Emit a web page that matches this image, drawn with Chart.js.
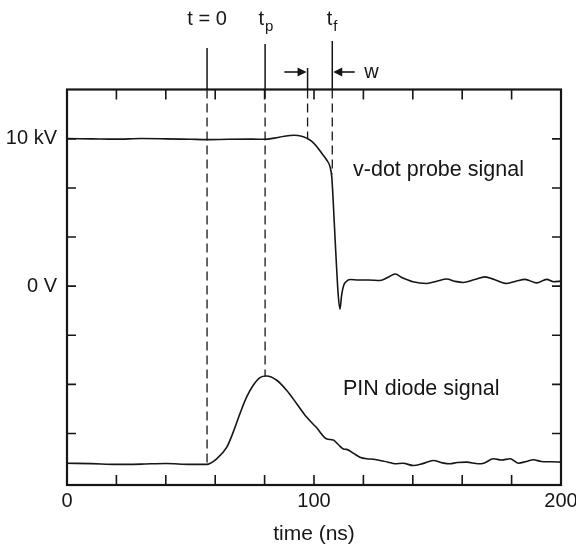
<!DOCTYPE html>
<html>
<head>
<meta charset="utf-8">
<script src="https://cdn.jsdelivr.net/npm/chart.js@4.4.1/dist/chart.umd.min.js"></script>
<style>
  html, body { margin: 0; padding: 0; background: #fff; }
</style>
</head>
<body>
<canvas id="chart" width="576" height="549"></canvas>
<script>
// v-dot probe signal (time in ns, value in kV)
const probeTime = [0, 10, 20, 30, 40, 50, 57, 65, 75, 80, 84, 88, 92, 95, 97, 99, 101, 103, 105, 106.5,
  107.2, 107.8, 108.5, 109.2, 109.8, 110.5, 111.2, 112, 113, 114.6, 118, 122, 126.7, 130, 132.8, 136,
  140, 145.6, 150, 153.7, 157, 160.4, 165, 169.2, 173, 178, 182, 185.4, 190.2, 194.2, 197, 200];
const probeVolts = [10.02, 10.0, 9.98, 10.02, 10.0, 9.97, 9.95, 9.97, 9.98, 9.97, 10.05, 10.18, 10.24, 10.18, 10.05, 9.85,
  9.5, 9.05, 8.6, 8.1, 7.4, 5.7, 3.3, 1.1, -0.6, -1.56, -0.6, 0.05, 0.3, 0.45, 0.42, 0.42, 0.38, 0.6, 0.82, 0.55,
  0.3, 0.18, 0.35, 0.48, 0.33, 0.25, 0.45, 0.63, 0.45, 0.18, 0.35, 0.46, 0.22, 0.46, 0.3, 0.34];

// PIN diode signal (same vertical scale, arbitrary units)
const pinTime = [0, 10, 20, 30, 40, 50, 56.5, 60.6, 64.7, 67.3, 70, 72.7, 75.4, 78.1, 80.8, 84.9, 88.9, 93, 97,
  101, 105, 107.8, 109.8, 111.9, 113.2, 116, 118.6, 121.3, 124, 126.7, 130, 132.8, 136, 140.2, 144, 148.3,
  152, 155, 158, 161.8, 166.5, 169, 172.6, 176, 179.4, 182.7, 186, 188.8, 192, 196, 200];
const pinVolts = [-12.02, -12.05, -12.1, -12.08, -12.04, -12.1, -12.1, -11.72, -10.93, -9.91, -8.66, -7.53, -6.73, -6.21,
  -6.1, -6.39, -7.07, -7.98, -8.89, -9.6, -10.36, -10.45, -10.75, -11.05, -11.08, -11.35, -11.61, -11.72, -11.75,
  -11.84, -11.95, -12.06, -12.02, -12.18, -12.05, -11.84, -12.0, -12.06, -11.97, -11.95, -12.06, -12.0, -11.72,
  -11.8, -11.72, -12.02, -11.9, -11.79, -11.9, -11.92, -11.95];

// dashed marker lines: t = 0, tp, start of w, tf
const markerTime = [56.7, 80.2, 97.4, 107.4];
const markerEnd = [-12.1, -6.1, 10.05, 7.6];

const xTickValues = [0, 20, 40, 60, 80, 100, 120, 140, 160, 180, 200];
const xTickLabels = { 0: '0', 100: '100', 200: '200' };
const yTickValues = [-10, -20 / 3, -10 / 3, 0, 10 / 3, 20 / 3, 10];
const yTickLabels = ['10 kV', '0 V'];

const ink = '#161616';
const font = '"Liberation Sans", Arial, Helvetica, sans-serif';

function toPoints(xs, ys) {
    return xs.map((x, i) => ({ x: x, y: ys[i] }));
}

const guideSets = markerTime.map((t, i) => ({
    data: [{ x: t, y: 13.35 }, { x: t, y: markerEnd[i] }],
    borderColor: ink,
    borderWidth: 1.3,
    borderDash: [9, 5],
    pointRadius: 0,
    tension: 0
}));

// frame, inward ticks and annotations
const framePlugin = {
    id: 'frame',
    afterDraw(chart) {
        const ctx = chart.ctx;
        const a = chart.chartArea;
        const xs = chart.scales.x;
        const ys = chart.scales.y;
        ctx.save();
        ctx.strokeStyle = ink;
        ctx.fillStyle = ink;
        ctx.lineWidth = 2.2;
        ctx.strokeRect(a.left, a.top, a.right - a.left, a.bottom - a.top);

        ctx.lineWidth = 1.6;
        ctx.beginPath();
        xTickValues.forEach(v => {
            const px = xs.getPixelForValue(v);
            ctx.moveTo(px, a.bottom); ctx.lineTo(px, a.bottom - 10);
            ctx.moveTo(px, a.top); ctx.lineTo(px, a.top + 10);
        });
        yTickValues.forEach(v => {
            const py = ys.getPixelForValue(v);
            ctx.moveTo(a.left, py); ctx.lineTo(a.left + 9, py);
            ctx.moveTo(a.right, py); ctx.lineTo(a.right - 9, py);
        });
        ctx.stroke();

        // solid marker lines above the frame
        const tops = [48, 44, 68, 41];
        ctx.lineWidth = 1.5;
        ctx.beginPath();
        markerTime.forEach((t, i) => {
            const px = xs.getPixelForValue(t);
            ctx.moveTo(px, tops[i]); ctx.lineTo(px, a.top);
        });
        ctx.stroke();

        // w arrows
        const arrow = (fromT, toT, y) => {
            const x0 = xs.getPixelForValue(fromT);
            const x1 = xs.getPixelForValue(toT);
            const dir = Math.sign(x1 - x0);
            ctx.beginPath();
            ctx.moveTo(x0, y); ctx.lineTo(x1 - dir * 6, y);
            ctx.lineWidth = 1.6;
            ctx.stroke();
            ctx.beginPath();
            ctx.moveTo(x1, y);
            ctx.lineTo(x1 - dir * 9, y - 4.5);
            ctx.lineTo(x1 - dir * 9, y + 4.5);
            ctx.closePath();
            ctx.fill();
        };
        arrow(88, markerTime[2] - 0.4, 72);
        arrow(116.5, markerTime[3] + 0.4, 72);

        ctx.textBaseline = 'alphabetic';
        ctx.font = '20px ' + font;
        ctx.textAlign = 'center';
        ctx.fillText('t = 0', xs.getPixelForValue(markerTime[0]), 25);
        ctx.textAlign = 'right';
        ctx.fillText('t', xs.getPixelForValue(markerTime[1]) - 1, 25);
        ctx.fillText('t', xs.getPixelForValue(markerTime[3]) - 0, 25);
        ctx.font = '15px ' + font;
        ctx.textAlign = 'left';
        ctx.fillText('p', xs.getPixelForValue(markerTime[1]) - 0, 31);
        ctx.fillText('f', xs.getPixelForValue(markerTime[3]) + 1, 31);
        ctx.font = '20px ' + font;
        ctx.fillText('w', xs.getPixelForValue(120.3), 78);

        // curve labels
        ctx.font = '21.5px ' + font;
        ctx.textBaseline = 'middle';
        ctx.fillText('v-dot probe signal', xs.getPixelForValue(115.8), ys.getPixelForValue(7.9));
        ctx.fillText('PIN diode signal', xs.getPixelForValue(111.7), ys.getPixelForValue(-7.0));
        ctx.restore();
    }
};

new Chart(document.getElementById('chart'), {
    type: 'line',
    data: {
        datasets: [
            {
                label: 'v-dot probe signal',
                data: toPoints(probeTime, probeVolts),
                borderColor: ink,
                borderWidth: 1.6,
                pointRadius: 0,
                cubicInterpolationMode: 'monotone'
            },
            {
                label: 'PIN diode signal',
                data: toPoints(pinTime, pinVolts),
                borderColor: ink,
                borderWidth: 1.6,
                pointRadius: 0,
                cubicInterpolationMode: 'monotone'
            },
            ...guideSets
        ]
    },
    options: {
        responsive: false,
        animation: false,
        devicePixelRatio: 1,
        layout: { padding: { top: 89.5, right: 15, left: 0, bottom: 0 } },
        plugins: {
            legend: { display: false },
            tooltip: { enabled: false }
        },
        scales: {
            x: {
                type: 'linear',
                min: 0,
                max: 200,
                afterFit: s => { s.height = 64; s.paddingLeft = 0; s.paddingRight = 0; },
                afterBuildTicks: s => { s.ticks = xTickValues.map(v => ({ value: v })); },
                grid: { display: false, drawTicks: false },
                border: { display: false },
                ticks: {
                    autoSkip: false,
                    maxRotation: 0,
                    padding: 4,
                    color: ink,
                    font: { family: font, size: 20 },
                    callback: v => xTickLabels[v] || ''
                },
                title: {
                    display: true,
                    text: 'time (ns)',
                    color: ink,
                    font: { family: font, size: 21 },
                    padding: { top: 0, bottom: 2 }
                }
            },
            y: {
                type: 'linear',
                min: -13.5,
                max: 13.35,
                afterFit: s => { s.width = 67; s.paddingTop = 0; s.paddingBottom = 0; },
                afterBuildTicks: s => { s.ticks = yTickValues.map(v => ({ value: v })); },
                grid: { display: false, drawTicks: false },
                border: { display: false },
                ticks: {
                    autoSkip: false,
                    padding: 10,
                    color: ink,
                    font: { family: font, size: 20 },
                    callback: v => Math.abs(v - 10) < 0.01 ? yTickLabels[0] : (Math.abs(v) < 0.01 ? yTickLabels[1] : '')
                }
            }
        }
    },
    plugins: [framePlugin]
});
</script>
</body>
</html>
